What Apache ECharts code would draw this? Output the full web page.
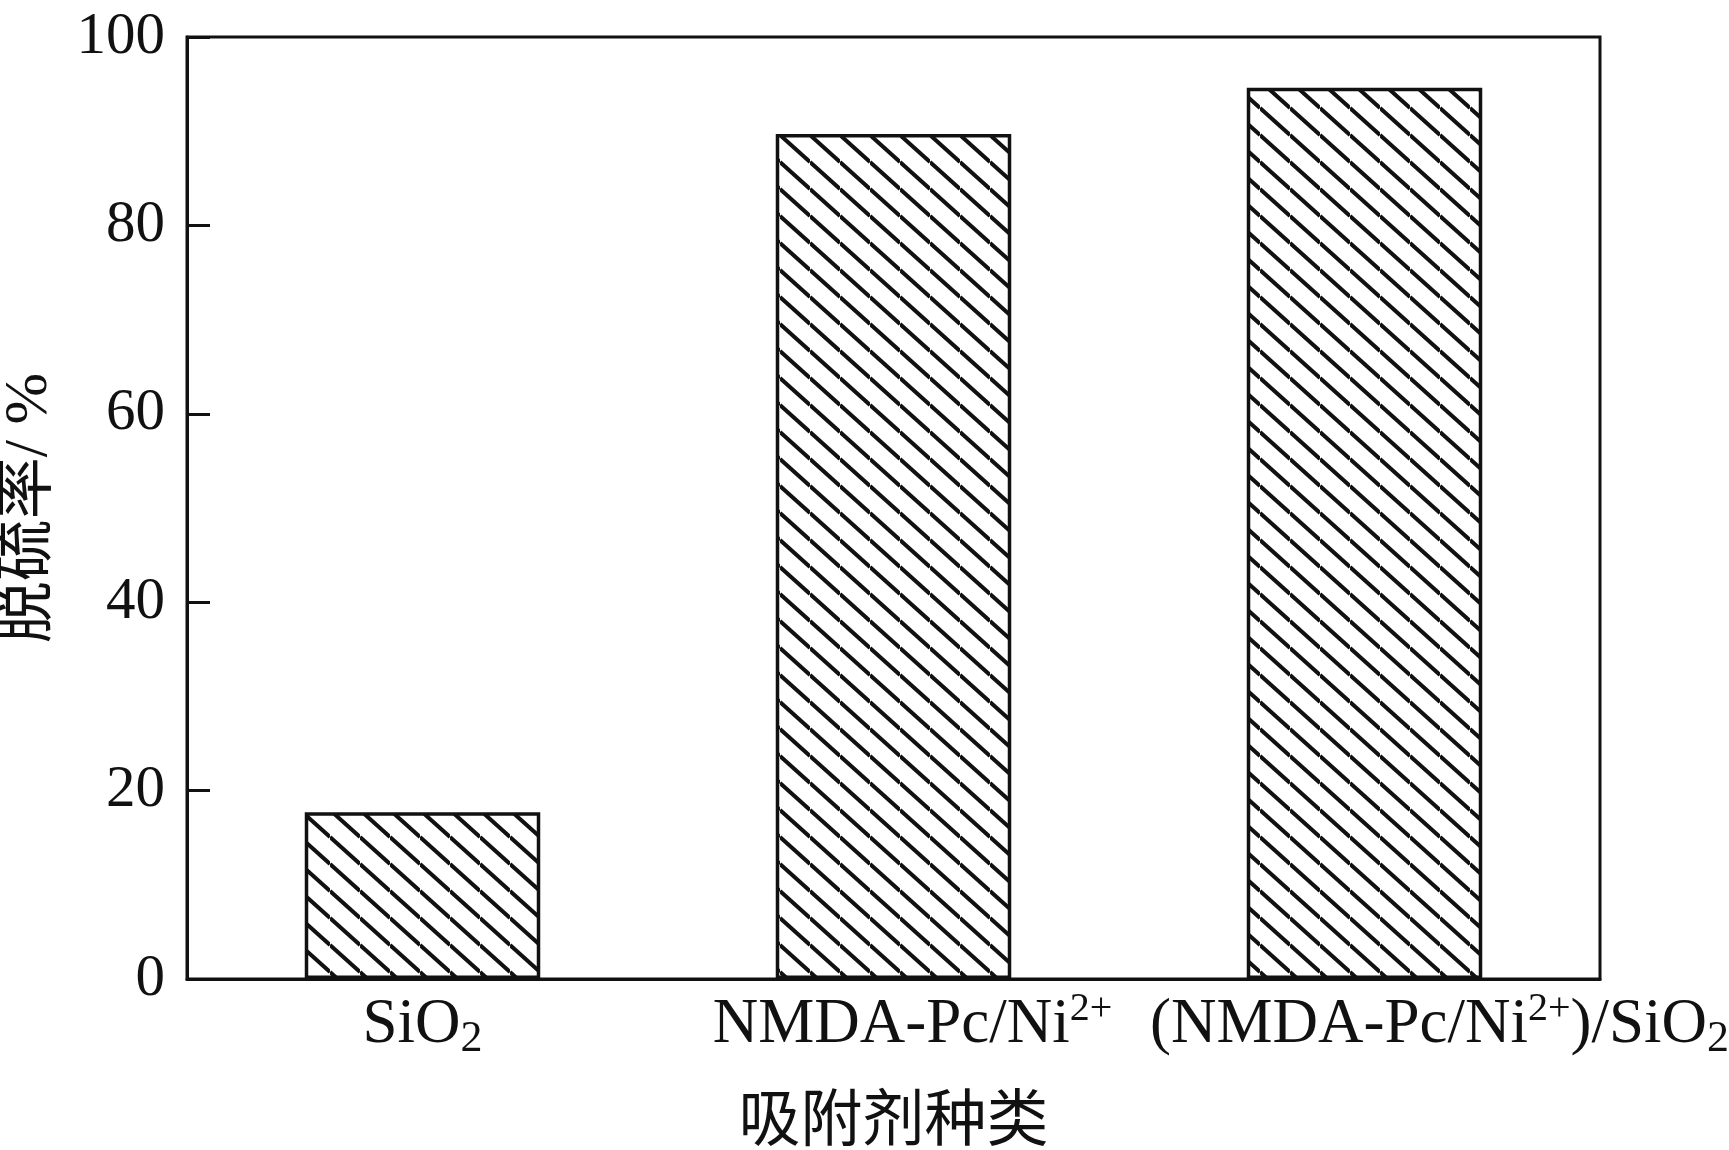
<!DOCTYPE html>
<html>
<head>
<meta charset="utf-8">
<script src="https://cdn.jsdelivr.net/npm/echarts@6/dist/echarts.min.js"></script>
<style>
html,body{margin:0;padding:0;background:#fff;}
#chart{width:1729px;height:1150px;}
</style>
</head>
<body>
<div id="chart"></div>
<script>
// ---- data ----
var categories = ['SiO2', 'NMDA-Pc/Ni2+', '(NMDA-Pc/Ni2+)/SiO2'];
var categoryLabels = ['{n|SiO}{sub|2}', '{pad2|}{n|NMDA-Pc/Ni}{sup|2+}', '{pad3|}{n|(NMDA-Pc/Ni}{sup|2+}{n|)/SiO}{sub|2}'];
var removalRate = [17.7, 89.7, 94.6];
var yTicks = [0, 20, 40, 60, 80, 100];
var yAxisTitle = '脱硫率/ %';
var xAxisTitle = '吸附剂种类';

// hatch pattern (backslash lines)
function makeHatch() {
  var w = 30, h = 27;
  var c = document.createElement('canvas');
  c.width = w; c.height = h;
  var ctx = c.getContext('2d');
  ctx.fillStyle = '#ffffff';
  ctx.fillRect(0, 0, w, h);
  ctx.strokeStyle = '#111111';
  ctx.lineWidth = 4;
  [-h, 0, h].forEach(function (off) {
    ctx.beginPath();
    ctx.moveTo(0, off);
    ctx.lineTo(w, off + h);
    ctx.stroke();
  });
  return c;
}

var chart = echarts.init(document.getElementById('chart'), null, {renderer: 'canvas'});
var serif = '"Liberation Serif", "Times New Roman", "Noto Sans CJK SC", serif';
var option = {
  backgroundColor: '#ffffff',
  animation: false,
  grid: {
    left: 187, right: 129, top: 37, bottom: 171,
    show: true, borderColor: '#111111', borderWidth: 3,
    backgroundColor: 'transparent',
    containLabel: false,
    outerBoundsMode: 'none'
  },
  xAxis: {
    type: 'category',
    data: categories,
    name: xAxisTitle,
    nameLocation: 'middle',
    nameGap: 115,
    nameTextStyle: {fontFamily: serif, fontSize: 62, color: '#111111'},
    axisLine: {show: true, lineStyle: {color: '#111111', width: 3}},
    axisTick: {show: false},
    splitLine: {show: false},
    axisLabel: {
      interval: 0,
      hideOverlap: false,
      margin: 10,
      fontFamily: serif,
      color: '#111111',
      formatter: function (v, i) { return categoryLabels[i]; },
      rich: {
        n: {fontFamily: serif, fontSize: 63, lineHeight: 72, color: '#111111', verticalAlign: 'middle'},
        sub: {fontFamily: serif, fontSize: 44, lineHeight: 30, color: '#111111', verticalAlign: 'bottom'},
        sup: {fontFamily: serif, fontSize: 40, lineHeight: 56, color: '#111111', verticalAlign: 'top'},
        pad2: {width: 38, fontSize: 10},
        pad3: {width: 150, fontSize: 10}
      }
    }
  },
  yAxis: {
    type: 'value',
    min: yTicks[0],
    max: yTicks[yTicks.length - 1],
    interval: 20,
    name: yAxisTitle,
    nameLocation: 'middle',
    nameRotate: 90,
    nameGap: 126,
    nameTextStyle: {fontFamily: serif, fontSize: 62, color: '#111111'},
    axisLine: {show: true, lineStyle: {color: '#111111', width: 3}},
    axisTick: {show: true, inside: true, length: 23, lineStyle: {color: '#111111', width: 3}},
    splitLine: {show: false},
    axisLabel: {
      margin: 22,
      fontFamily: serif,
      fontSize: 59,
      color: '#111111'
    }
  },
  series: [{
    type: 'bar',
    data: removalRate,
    barWidth: '50%',
    itemStyle: {
      color: {image: makeHatch(), repeat: 'repeat'},
      borderColor: '#111111',
      borderWidth: 3.5
    }
  }]
};
chart.setOption(option);
</script>
</body>
</html>
